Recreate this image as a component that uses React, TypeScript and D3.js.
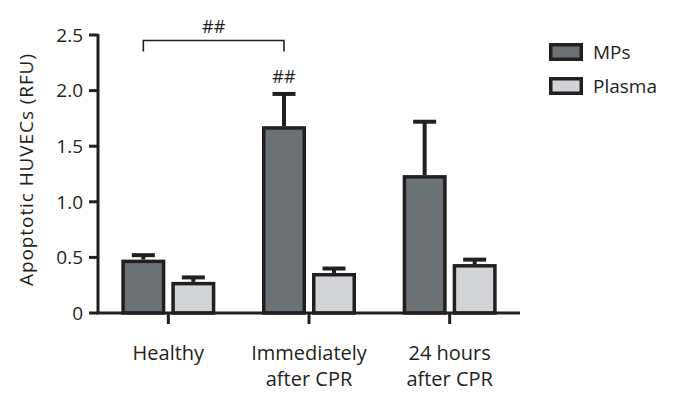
import React from "react";
import * as d3 from "d3";

const categories = ["Healthy", "Immediately\nafter CPR", "24 hours\nafter CPR"];
const seriesNames = ["MPs", "Plasma"];
const mpsValues = [0.48, 1.68, 1.24];
const mpsErrors = [0.04, 0.29, 0.48];
const plasmaValues = [0.28, 0.36, 0.44];
const plasmaErrors = [0.04, 0.04, 0.04];
const yTicks = [0, 0.5, 1.0, 1.5, 2.0, 2.5];
const yTickLabels = ["0", "0.5", "1.0", "1.5", "2.0", "2.5"];
const colors = ["#6b7275", "#d1d3d6"];

export default function App() {
  const W = 685, H = 420;
  const font = "'Open Sans', sans-serif";
  const stroke = "#231f20";
  const x0 = 98, x1 = 520, yTop = 35, yBot = 313;
  const y = d3.scaleLinear().domain([0, 2.5]).range([yBot, yTop]);
  const x = d3.scaleBand().domain(categories).range([x0, x1]);
  const barW = 44, gap = 6;
  const sx = d3.scaleBand().domain(seriesNames).range([0, barW * 2 + gap]).paddingInner(gap / (barW + gap));
  const series = [
    { name: "MPs", values: mpsValues, errors: mpsErrors, color: colors[0] },
    { name: "Plasma", values: plasmaValues, errors: plasmaErrors, color: colors[1] },
  ];
  const sw = 3.5;
  const groupStart = (c: string) => x(c)! + x.bandwidth() / 2 - (barW * 2 + gap) / 2;
  const barCenter = (ci: number, s: string) => groupStart(categories[ci]) + sx(s)! + sx.bandwidth() / 2;
  const capHalf = 11.5;

  return (
    <svg width={W} height={H} style={{ position: "absolute", left: 0, top: 0, background: "#fff" }}>
      {/* bars */}
      {series.map((s) =>
        categories.map((c, i) => {
          const bx = groupStart(c) + sx(s.name)!;
          const top = y(s.values[i]);
          const cx = bx + sx.bandwidth() / 2;
          const capY = y(s.values[i] + s.errors[i]);
          return (
            <g key={s.name + c}>
              <line x1={cx} x2={cx} y1={top} y2={capY} stroke={stroke} strokeWidth={4} />
              <line x1={cx - capHalf} x2={cx + capHalf} y1={capY} y2={capY} stroke={stroke} strokeWidth={4} />
              <rect
                x={bx + sw / 2}
                y={top + sw / 2}
                width={sx.bandwidth() - sw}
                height={yBot - top - sw / 2}
                fill={s.color}
                stroke={stroke}
                strokeWidth={sw}
              />
            </g>
          );
        })
      )}
      {/* y axis */}
      <line x1={x0} x2={x0} y1={yTop - 1} y2={yBot} stroke={stroke} strokeWidth={3} />
      {yTicks.map((t, i) => (
        <g key={t}>
          <line x1={x0 - 9} x2={x0} y1={y(t)} y2={y(t)} stroke={stroke} strokeWidth={3} />
          <text x={x0 - 15} y={y(t)} dy="0.36em" textAnchor="end" fontFamily={font} fontSize={19} fill={stroke}>
            {yTickLabels[i]}
          </text>
        </g>
      ))}
      {/* x axis */}
      <line x1={x0 - 1.5} x2={x1} y1={yBot} y2={yBot} stroke={stroke} strokeWidth={3} />
      {categories.map((c) => {
        const cx = x(c)! + x.bandwidth() / 2;
        const lines = c.split("\n");
        return (
          <g key={c}>
            <line x1={cx} x2={cx} y1={yBot} y2={yBot + 11} stroke={stroke} strokeWidth={3} />
            {lines.map((l, j) => (
              <text key={j} x={cx} y={360 + j * 26} textAnchor="middle" fontFamily={font} fontSize={20} fill={stroke}>
                {l}
              </text>
            ))}
          </g>
        );
      })}
      {/* y title */}
      <text
        transform={`translate(33,170) rotate(-90)`}
        textAnchor="middle"
        fontFamily={font}
        fontSize={19}
        fill={stroke}
        textLength={232}
        lengthAdjust="spacing"
      >
        Apoptotic HUVECs (RFU)
      </text>
      {/* significance bracket */}
      {(() => {
        const lx = barCenter(0, "MPs");
        const rx = barCenter(1, "MPs");
        const by = y(2.45);
        return (
          <g>
            <path d={`M${lx},${by + 11}V${by}H${rx}V${by + 11}`} fill="none" stroke={stroke} strokeWidth={1.6} />
            <text x={(lx + rx) / 2} y={33} textAnchor="middle" fontFamily={font} fontSize={18} fill={stroke}>##</text>
            <text x={rx} y={83} textAnchor="middle" fontFamily={font} fontSize={18} fill={stroke}>##</text>
          </g>
        );
      })()}
      {/* legend */}
      {series.map((s, i) => (
        <g key={s.name} transform={`translate(549,${43 + i * 34})`}>
          <rect x={sw / 2} y={sw / 2} width={34 - sw} height={18 - sw} fill={s.color} stroke={stroke} strokeWidth={sw} />
          <text x={44} y={9} dy="0.36em" fontFamily={font} fontSize={19} fill={stroke}>{s.name}</text>
        </g>
      ))}
    </svg>
  );
}
